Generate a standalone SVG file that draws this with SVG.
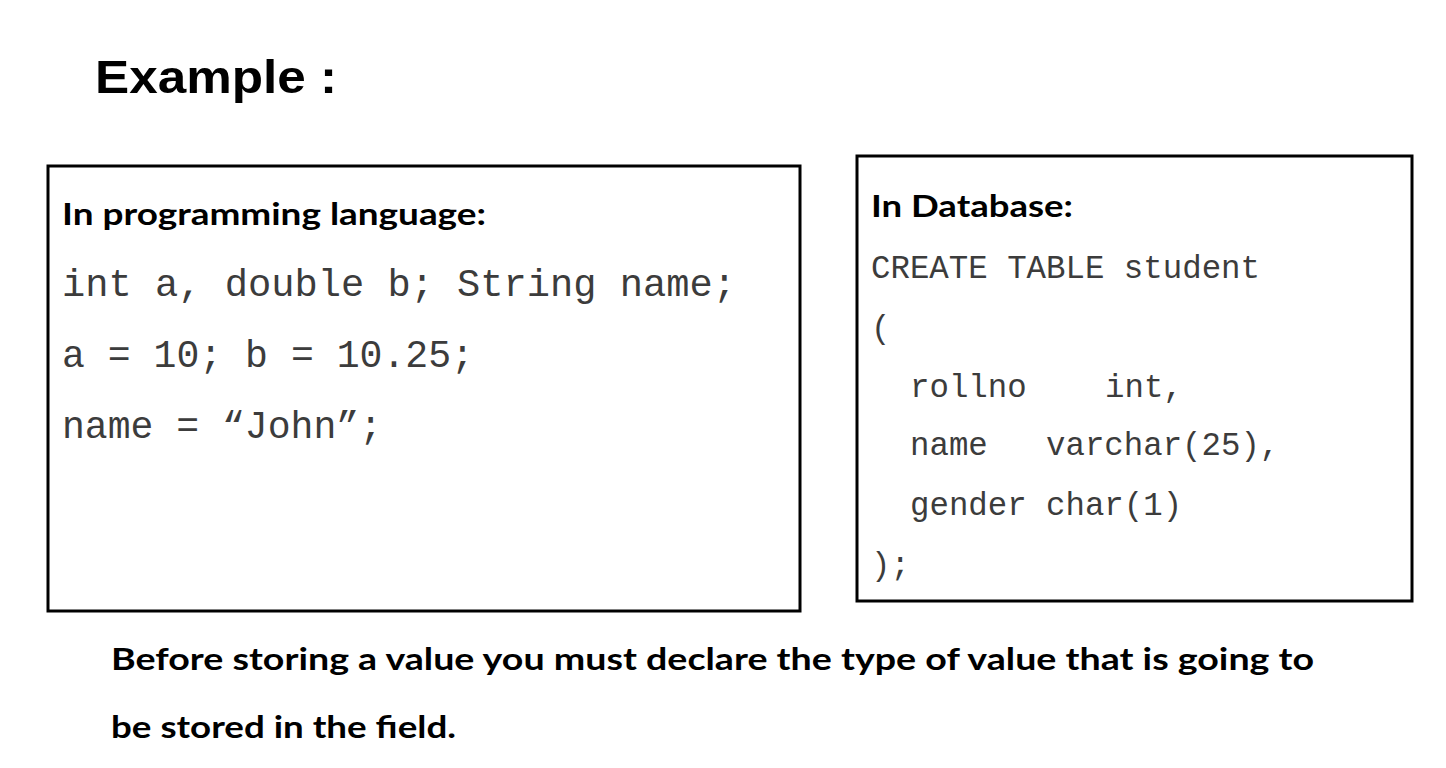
<svg xmlns="http://www.w3.org/2000/svg" width="1446" height="768" viewBox="0 0 1446 768">
<style>
.box{fill:#fff;stroke:#000;stroke-width:3}
.hd{font-family:Lato,"Open Sans","Liberation Sans",sans-serif;font-weight:bold;fill:#000}
.code{font-family:"Liberation Mono","DejaVu Sans Mono",monospace;fill:#3c3c3c}
</style>
<rect width="1446" height="768" fill="#fff"/>
<g id="title">
<text x="95" y="93" class="hd" font-size="46" font-family="'Liberation Sans',sans-serif" textLength="242" lengthAdjust="spacingAndGlyphs" style="font-family:'Liberation Sans',Arial,sans-serif">Example :</text>
</g>
<g id="prog-box">
<rect class="box" x="48" y="166" width="752" height="445"/>
<text x="62" y="225" class="hd" font-size="31" textLength="424" lengthAdjust="spacingAndGlyphs">In programming language:</text>
<text x="62" y="296" class="code" font-size="38.6" textLength="674" lengthAdjust="spacingAndGlyphs">int a, double b; String name;</text>
<text x="62" y="367" class="code" font-size="38.6" textLength="412" lengthAdjust="spacingAndGlyphs">a = 10; b = 10.25;</text>
<text x="62" y="438" class="code" font-size="38.6" textLength="320" lengthAdjust="spacingAndGlyphs">name = “John”;</text>
</g>
<g id="db-box">
<rect class="box" x="857" y="156" width="555" height="445"/>
<text x="871" y="217" class="hd" font-size="31" textLength="202" lengthAdjust="spacingAndGlyphs">In Database:</text>
<text x="871" y="278" class="code" font-size="32.4" textLength="389" lengthAdjust="spacingAndGlyphs">CREATE TABLE student</text>
<text x="871" y="338" class="code" font-size="32.4">(</text>
<text x="910" y="397" class="code" font-size="32.4">rollno</text>
<text x="1105" y="397" class="code" font-size="32.4">int,</text>
<text x="910" y="455" class="code" font-size="32.4">name</text>
<text x="1046" y="455" class="code" font-size="32.4">varchar(25),</text>
<text x="910" y="515" class="code" font-size="32.4">gender</text>
<text x="1046" y="515" class="code" font-size="32.4">char(1)</text>
<text x="871" y="575" class="code" font-size="32.4">);</text>
</g>
<g id="note">
<text x="111" y="670" class="hd" font-size="31" textLength="1203" lengthAdjust="spacingAndGlyphs">Before storing a value you must declare the type of value that is going to</text>
<text x="111" y="738" class="hd" font-size="31" textLength="345" lengthAdjust="spacingAndGlyphs">be stored in the field.</text>
</g>
<g id="connectors"/>
</svg>
